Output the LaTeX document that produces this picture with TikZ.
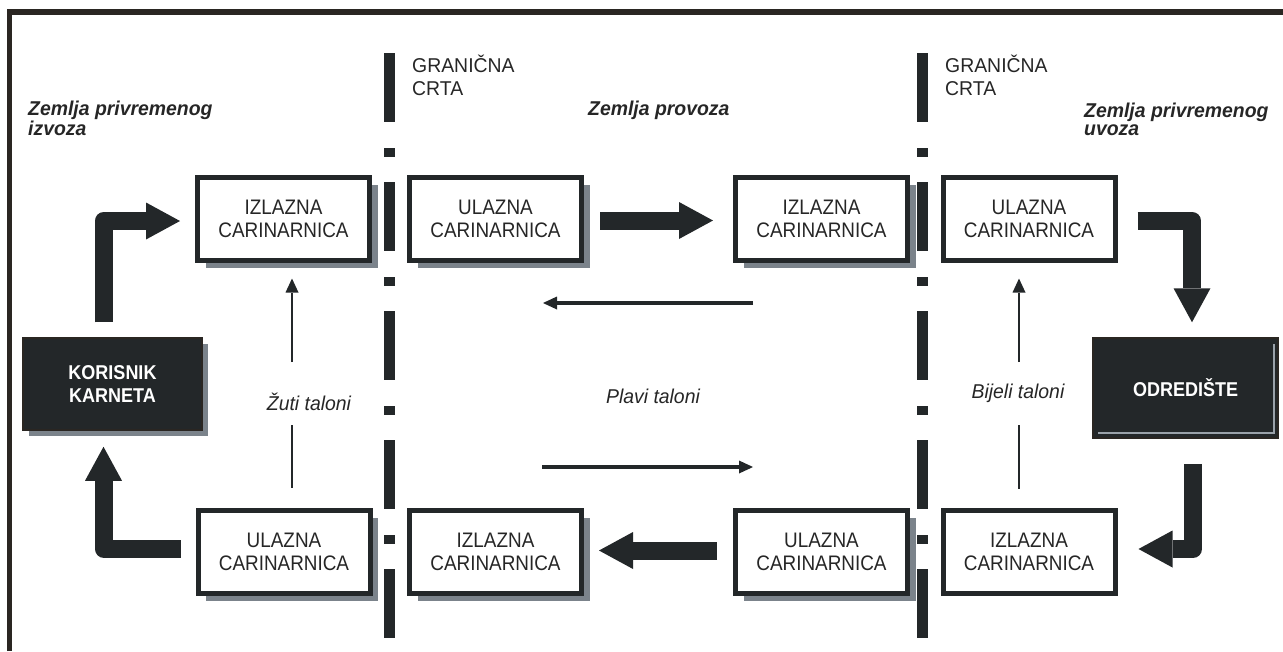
\documentclass[tikz,border=0pt]{standalone}
\usepackage{fontspec}
\setmainfont{Liberation Sans}
\newfontfamily\boxfont[FakeStretch=0.9]{Liberation Sans}
\newfontfamily\labfont[FakeStretch=0.97]{Liberation Sans}
\usetikzlibrary{arrows.meta,shadows}
\definecolor{dk}{HTML}{232729}
\definecolor{shg}{HTML}{7B838B}
\definecolor{txt}{HTML}{262626}
\definecolor{fr}{HTML}{2A2622}
\definecolor{hl}{HTML}{9AA2AA}
\tikzset{
  cbox/.style={draw=dk, line width=5pt, fill=white, minimum width=172pt, minimum height=83pt,
    inner sep=0pt, align=center, text=txt, font=\boxfont\fontsize{21}{23}\selectfont},
  shad/.style={drop shadow={shadow xshift=8pt,shadow yshift=-8pt,fill=shg,opacity=1}},
  dbox/.style={fill=dk, draw=fr, line width=1.5pt, text=white, align=center, inner sep=0pt,
    font=\boxfont\bfseries\fontsize{20}{23}\selectfont},
  zlab/.style={inner sep=0pt, align=left, text=txt, font=\labfont\bfseries\itshape\fontsize{20}{18}\selectfont},
  glab/.style={inner sep=0pt, align=left, text=txt, font=\labfont\fontsize{20}{23}\selectfont},
  tlab/.style={inner sep=0pt, text=txt, font=\labfont\itshape\fontsize{20}{23}\selectfont},
  bigarrow/.style={draw=dk, line width=18pt, line join=round,
    -{Triangle[length=34pt 0,width=37pt 0,line width=0pt]}},
  thinv/.style={draw=dk, line width=2.5pt},
  thinh/.style={draw=dk, line width=3.5pt},
  thintip/.style={-{Triangle[length=14pt 0,width=13pt 0,line width=0pt]}},
  border/.style={draw=dk, line width=11pt, dash pattern=on 69pt off 26pt on 9pt off 25pt}
}
\begin{document}
\begin{tikzpicture}[x=1pt,y=-1pt]
\useasboundingbox (0,0) rectangle (1283,651);
% frame
\draw[fr, line width=5.5pt] (9.5,651) -- (9.5,12) -- (1283,12);
% border lines
\draw[border] (389,53) -- (389,651);
\draw[border] (922.5,53) -- (922.5,651);
% boxes
\node[cbox,shad] (b1) at (283.5,218.5) {IZLAZNA\\CARINARNICA};
\node[cbox,shad] (b2) at (495.5,218.5) {ULAZNA\\CARINARNICA};
\node[cbox,shad] (b3) at (821.5,218.5) {IZLAZNA\\CARINARNICA};
\node[cbox] (b4) at (1029,218.5) {ULAZNA\\CARINARNICA};
\node[cbox,shad] (b5) at (284,551.5) {ULAZNA\\CARINARNICA};
\node[cbox,shad] (b6) at (495.5,551.5) {IZLAZNA\\CARINARNICA};
\node[cbox,shad] (b7) at (821.5,551.5) {ULAZNA\\CARINARNICA};
\node[cbox] (b8) at (1029,551.5) {IZLAZNA\\CARINARNICA};
% dark boxes
\node[dbox, minimum width=179pt, minimum height=92pt,
  drop shadow={shadow xshift=6pt,shadow yshift=-6pt,fill=shg,opacity=1}] (kor) at (112.5,384) {KORISNIK\\KARNETA};
\node[dbox, minimum width=185pt, minimum height=100pt] (od) at (1185.5,388) {ODREDIŠTE};
\draw[hl, line width=2pt] ([xshift=-5pt,yshift=-7pt]od.north east) -- ([xshift=-5pt,yshift=6pt]od.south east) -- ([xshift=6pt,yshift=6pt]od.south west);
% labels
\node[zlab, anchor=base west] (zl1) at (28,135) {Zemlja privremenog\\izvoza};
\node[zlab, anchor=base west] (zl2) at (588,115) {Zemlja provoza};
\node[zlab, anchor=base west] (zl3) at (1084,135) {Zemlja privremenog\\uvoza};
\node[glab, anchor=base west] (g1) at (412,95) {GRANIČNA\\CRTA};
\node[glab, anchor=base west] (g2) at (945,95) {GRANIČNA\\CRTA};
\node[tlab, anchor=base] (t1) at (309,410) {Žuti taloni};
\node[tlab, anchor=base] (t2) at (653,403) {Plavi taloni};
\node[tlab, anchor=base] (t3) at (1018,398) {Bijeli taloni};
% big arrows
\coordinate (c1) at (103.5,221);
\draw[bigarrow, shorten <=15pt, shorten >=15pt] (kor.north -| c1) -- (c1) -- (b1.west |- c1);
\coordinate (c2) at (103.5,548.5);
\draw[bigarrow, shorten <=15pt, shorten >=16pt] (b5.west |- c2) -- (c2) -- (kor.south -| c2);
\draw[bigarrow, shorten <=16pt, shorten >=20pt] ([yshift=-2pt]b2.east) -- ([yshift=-2pt]b3.west);
\draw[bigarrow, shorten <=16pt, shorten >=15pt] ([yshift=1pt]b7.west) -- ([yshift=1pt]b6.east);
\coordinate (c3) at (1192,220.5);
\draw[bigarrow, shorten <=20pt, shorten >=15pt] (b4.east |- c3) -- (c3) -- (od.north -| c3);
\coordinate (c4) at (1193,549);
\draw[bigarrow, shorten <=25pt, shorten >=21pt] (od.south -| c4) -- (c4) -- (b8.east |- c4);
% thin arrows
\coordinate (zt) at (292,362);
\coordinate (zb) at (292,425);
\draw[thinv, shorten <=20pt] (b5.north -| zb) -- (zb);
\draw[thinv, thintip, shorten >=16pt] (zt) -- (b1.south -| zt);
\coordinate (bt) at (1019,362);
\coordinate (bb) at (1019,425);
\draw[thinv, shorten <=19pt] (b8.north -| bb) -- (bb);
\draw[thinv, thintip, shorten >=16pt] (bt) -- (b4.south -| bt);
\coordinate (p1) at (753,303);
\coordinate (p2) at (543,303);
\coordinate (p3) at (542,467);
\coordinate (p4) at (753,467);
\draw[thinh, thintip] (p1) -- (p2);
\draw[thinh, thintip] (p3) -- (p4);
\end{tikzpicture}
\end{document}
